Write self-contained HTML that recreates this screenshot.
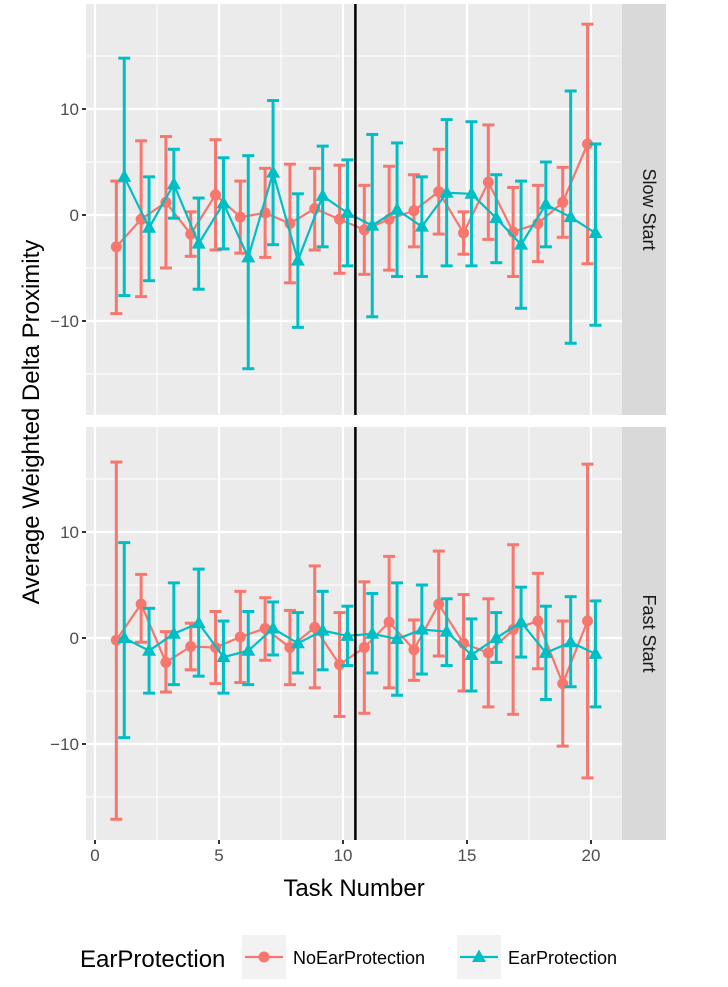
<!DOCTYPE html>
<html><head><meta charset="utf-8"><style>
body{margin:0;background:#fff;font-family:"Liberation Sans",sans-serif;}
svg text{font-family:"Liberation Sans",sans-serif;}
</style></head><body>
<svg id="c" width="728" height="982" xmlns="http://www.w3.org/2000/svg"></svg>
<script>
const tasks=[1,2,3,4,5,6,7,8,9,10,11,12,13,14,15,16,17,18,19,20];
const slowNoMean=[-3.0,-0.4,1.2,-1.8,1.9,-0.2,0.2,-0.8,0.6,-0.4,-1.4,-0.4,0.4,2.2,-1.7,3.1,-1.6,-0.8,1.2,6.7];
const slowNoHi=[3.2,7.0,7.4,0.3,7.1,3.2,4.4,4.8,4.4,4.7,2.8,4.6,3.8,6.2,0.3,8.5,2.6,2.8,4.5,18.0];
const slowNoLo=[-9.3,-7.7,-5.0,-3.9,-3.3,-3.6,-4.0,-6.4,-3.3,-5.5,-5.6,-5.2,-3.0,-1.8,-3.7,-2.3,-5.8,-4.4,-2.1,-4.6];
const slowEarMean=[3.6,-1.2,2.9,-2.7,1.1,-4.0,4.0,-4.3,1.8,0.2,-1.0,0.5,-1.1,2.1,2.0,-0.3,-2.8,1.0,-0.2,-1.7];
const slowEarHi=[14.8,3.6,6.2,1.6,5.4,5.6,10.8,2.0,6.5,5.2,7.6,6.8,3.6,9.0,8.8,3.8,3.2,5.0,11.7,6.7];
const slowEarLo=[-7.6,-6.2,-0.3,-7.0,-3.2,-14.5,-2.8,-10.6,-3.0,-4.8,-9.6,-5.8,-5.8,-4.8,-4.8,-4.5,-8.8,-3.0,-12.1,-10.4];
const fastNoMean=[-0.2,3.2,-2.3,-0.8,-0.9,0.1,0.9,-0.9,1.0,-2.5,-0.9,1.5,-1.1,3.2,-0.5,-1.4,0.8,1.6,-4.3,1.6];
const fastNoHi=[16.6,6.0,0.6,1.4,2.5,4.4,3.8,2.6,6.8,2.4,5.3,7.7,1.7,8.2,4.1,3.7,8.8,6.1,1.6,16.4];
const fastNoLo=[-17.1,-0.4,-5.1,-3.0,-4.3,-4.2,-2.1,-4.4,-4.7,-7.4,-7.1,-4.7,-4.0,-1.7,-5.0,-6.5,-7.2,-2.9,-10.2,-13.2];
const fastEarMean=[0.0,-1.2,0.4,1.4,-1.8,-1.2,0.9,-0.5,0.7,0.2,0.4,-0.1,0.8,0.6,-1.6,0.0,1.5,-1.4,-0.4,-1.5];
const fastEarHi=[9.0,2.8,5.2,6.5,1.6,2.5,3.4,2.4,4.4,3.0,4.2,5.2,5.0,3.7,1.8,2.4,4.8,3.0,3.9,3.5];
const fastEarLo=[-9.4,-5.2,-4.4,-3.6,-5.2,-4.4,-1.6,-3.3,-3.0,-2.6,-3.3,-5.4,-3.4,-2.6,-5.0,-2.3,-1.8,-5.8,-4.6,-6.5];
const xTicks=[0,5,10,15,20];
const yTicks=[-10,0,10];
const RED='#F8766D',TEAL='#00BFC4';
const svg=document.getElementById('c');const NS='http://www.w3.org/2000/svg';
function el(t,a,p){const e=document.createElementNS(NS,t);for(const k in a)e.setAttribute(k,a[k]);(p||svg).appendChild(e);return e;}
const X0=86,X1=622;
const xs=v=>95+v*24.8;
const panels=[{top:4,bot:415,zero:215,label:'Slow Start',name:'slow-start',d:[[slowNoMean,slowNoHi,slowNoLo],[slowEarMean,slowEarHi,slowEarLo]]},
{top:427,bot:840,zero:638,label:'Fast Start',name:'fast-start',d:[[fastNoMean,fastNoHi,fastNoLo],[fastEarMean,fastEarHi,fastEarLo]]}];
panels.forEach(p=>{
 const ys=v=>p.zero-v*10.6;
 const g=el('g',{});
 el('rect',{x:X0,y:p.top,width:X1-X0,height:p.bot-p.top,fill:'#EBEBEB'},g);
 [-15,-5,5,15].forEach(v=>{const y=ys(v);if(y>p.top&&y<p.bot)el('line',{x1:X0,x2:X1,y1:y,y2:y,stroke:'#fff','stroke-width':1},g);});
 [2.5,7.5,12.5,17.5].forEach(v=>el('line',{x1:xs(v),x2:xs(v),y1:p.top,y2:p.bot,stroke:'#fff','stroke-width':1},g));
 yTicks.forEach(v=>{const y=ys(v);el('line',{x1:X0,x2:X1,y1:y,y2:y,stroke:'#fff','stroke-width':2.2},g);
  el('line',{x1:X0-4,x2:X0,y1:y,y2:y,stroke:'#333','stroke-width':2},g);
  const t=el('text',{x:X0-7,y:y+6,'text-anchor':'end','font-size':17,fill:'#4D4D4D'},g);t.textContent=v<0?'\u2212'+(-v):v;});
 xTicks.forEach(v=>el('line',{x1:xs(v),x2:xs(v),y1:p.top,y2:p.bot,stroke:'#fff','stroke-width':2.2},g));
 el('rect',{x:X1,y:p.top,width:44,height:p.bot-p.top,fill:'#D9D9D9'},g);
 const cy=(p.top+p.bot)/2;
 const st=el('text',{x:643,y:cy,'text-anchor':'middle','font-size':18,fill:'#1A1A1A',transform:`rotate(90 643 ${cy})`},g);
 st.textContent=p.label;
 p.d.forEach((s,si)=>{
  const col=si?TEAL:RED,off=si?0.18:-0.14;
  const [m,hi,lo]=s;
  tasks.forEach((t,i)=>{const x=xs(t+off);
   const b=el('g',{},g);
   el('line',{x1:x,x2:x,y1:ys(hi[i]),y2:ys(lo[i]),stroke:col,'stroke-width':3},b);
   el('line',{x1:x-6,x2:x+6,y1:ys(hi[i]),y2:ys(hi[i]),stroke:col,'stroke-width':3},b);
   el('line',{x1:x-6,x2:x+6,y1:ys(lo[i]),y2:ys(lo[i]),stroke:col,'stroke-width':3},b);});
  const pl=el('polyline',{points:tasks.map((t,i)=>xs(t+off)+','+ys(m[i])).join(' '),fill:'none',stroke:col,'stroke-width':2.2},g);
  
  tasks.forEach((t,i)=>{const x=xs(t+off),y=ys(m[i]);let pt;
   if(si)pt=el('polygon',{points:`${x},${y-7.5} ${x-7},${y+5} ${x+7},${y+5}`,fill:col},g);
   else pt=el('circle',{cx:x,cy:y,r:5.5,fill:col},g);
   });
 });
 el('line',{x1:xs(10.5),x2:xs(10.5),y1:p.top,y2:p.bot,stroke:'#000','stroke-width':2.5},g);
});
xTicks.forEach(v=>{el('line',{x1:xs(v),x2:xs(v),y1:840,y2:844,stroke:'#333','stroke-width':2});
 const t=el('text',{x:xs(v),y:861,'text-anchor':'middle','font-size':17,fill:'#4D4D4D'});t.textContent=v;});
let t=el('text',{x:354,y:896,'text-anchor':'middle','font-size':24,fill:'#000'});t.textContent='Task Number';

t=el('text',{x:39,y:422,'text-anchor':'middle','font-size':24,fill:'#000',transform:'rotate(-90 39 422)'});t.textContent='Average Weighted Delta Proximity';

const lg=el('g',{});
t=el('text',{x:80,y:967,'font-size':24,fill:'#000'},lg);t.textContent='EarProtection';
el('rect',{x:242,y:935,width:44,height:44,fill:'#F2F2F2'},lg);
el('line',{x1:245,x2:283,y1:957,y2:957,stroke:RED,'stroke-width':2.2},lg);
el('circle',{cx:264,cy:957,r:5.5,fill:RED},lg);
t=el('text',{x:293,y:964,'font-size':18,fill:'#000'},lg);t.textContent='NoEarProtection';
el('rect',{x:457,y:935,width:44,height:44,fill:'#F2F2F2'},lg);
el('line',{x1:460,x2:498,y1:957,y2:957,stroke:TEAL,'stroke-width':2.2},lg);
el('polygon',{points:'479,949.5 472,962 486,962',fill:TEAL},lg);
t=el('text',{x:508,y:964,'font-size':18,fill:'#000'},lg);t.textContent='EarProtection';
</script>
</body></html>
